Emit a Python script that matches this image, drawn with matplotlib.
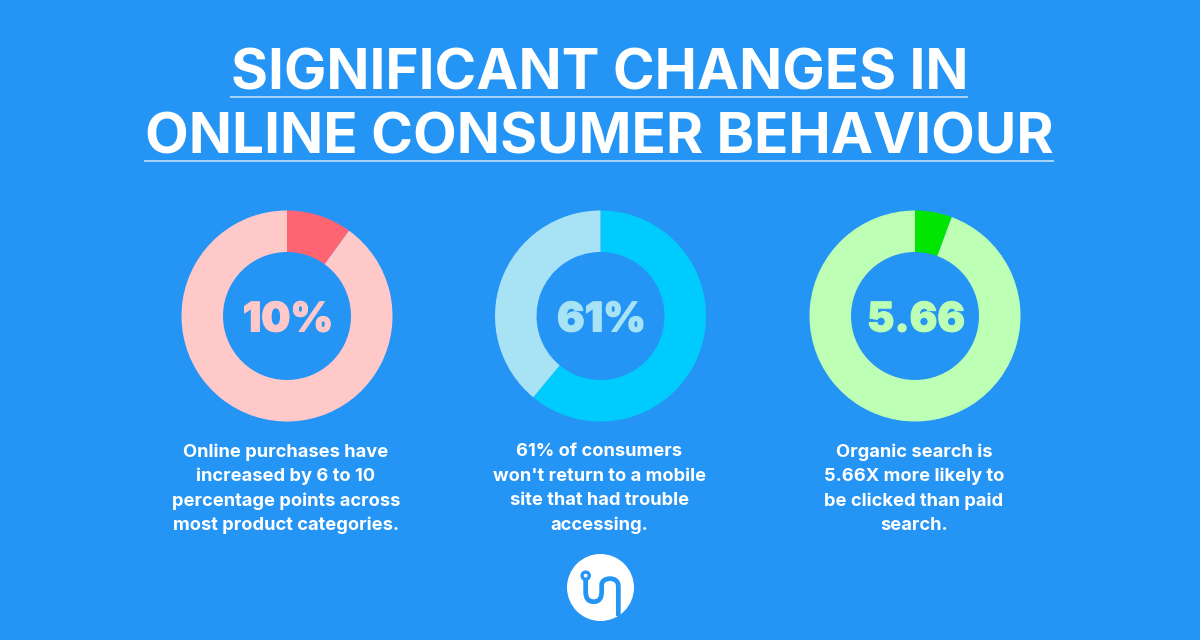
import matplotlib
matplotlib.use("Agg")
import matplotlib.pyplot as plt
from matplotlib.path import Path
from matplotlib.patches import PathPatch, Circle
import matplotlib.patheffects as pe

BG = "#2595F5"
title_lines = ["SIGNIFICANT CHANGES IN", "ONLINE CONSUMER BEHAVIOUR"]
center_labels = ["10%", "61%", "5.66"]
highlight_values = [10, 61, 5.66]
rest_values = [90, 39, 94.34]
highlight_colors = ["#FF6473", "#00CBFD", "#00E600"]
rest_colors = ["#FFC9CA", "#A8E2F5", "#BEFFB6"]
captions = [
    ["Online purchases have", "increased by 6 to 10", "percentage points across", "most product categories."],
    ["61% of consumers", "won't return to a mobile", "site that had trouble", "accessing."],
    ["Organic search is", "5.66X more likely to", "be clicked than paid", "search."],
]
centers_x = [287, 600.5, 915]

fig = plt.figure(figsize=(12, 6.4), dpi=100, facecolor=BG)
ax = fig.add_axes([0, 0, 1, 1])
H = 640


def py(y):
    return H - y


for i, cx in enumerate(centers_x):
    ax.pie([highlight_values[i], rest_values[i]],
           colors=[highlight_colors[i], rest_colors[i]],
           startangle=90, counterclock=False,
           center=(cx, py(316)), radius=105.5,
           wedgeprops=dict(width=41.5, linewidth=0))
    t = ax.text(cx + 1, py(316.5), center_labels[i], color=rest_colors[i],
                fontsize=29.5, family="Inter", fontweight="black",
                ha="center", va="center_baseline")
    t.set_path_effects([pe.withStroke(linewidth=0.7, foreground=rest_colors[i])])
    for j, line in enumerate(captions[i]):
        ax.text(cx - 1, py(450 + j * 24.4), line, color="white",
                fontsize=13.2, family="Inter", fontweight="bold",
                ha="center", va="center_baseline")

ax.set_xlim(0, 1200)
ax.set_ylim(0, 640)
ax.set_aspect("equal")
ax.axis("off")

# title
ax.text(600, py(90), title_lines[0], color="white", fontsize=40.7,
        family="Inter", fontweight="bold", ha="center", va="baseline")
ax.text(599, py(154), title_lines[1], color="white", fontsize=40.8,
        family="Inter", fontweight="bold", ha="center", va="baseline")
ax.plot([230, 968], [py(97), py(97)], color="#CFE6FC", lw=1.1, solid_capstyle="butt")
ax.plot([144, 1054], [py(161), py(161)], color="#CFE6FC", lw=1.1, solid_capstyle="butt")

# logo
ax.add_patch(Circle((600.5, py(587.5)), 33.5, fc="white", ec="none"))
zx = lambda v: 520 + v / 3
zy = lambda v: py(550 + v / 3)
verts = [(197, 90), (197, 125), (197, 145), (205, 155), (221, 155), (237, 155), (245, 145),
         (245, 125), (245, 105), (245, 92), (257, 86), (270, 86), (283, 86), (295, 92),
         (295, 110), (295, 198)]
codes = [Path.MOVETO, Path.LINETO, Path.CURVE4, Path.CURVE4, Path.CURVE4, Path.CURVE4, Path.CURVE4,
         Path.CURVE4, Path.LINETO, Path.CURVE4, Path.CURVE4, Path.CURVE4, Path.CURVE4, Path.CURVE4,
         Path.CURVE4, Path.LINETO]
ax.add_patch(PathPatch(Path([(zx(a), zy(b)) for a, b in verts], codes), fc="none", ec=BG, lw=3.4, capstyle="butt"))
ax.add_patch(Circle((zx(197), zy(77)), 3.6, fc="white", ec=BG, lw=2.4))

fig.savefig("out.png", dpi=100, facecolor=BG)
